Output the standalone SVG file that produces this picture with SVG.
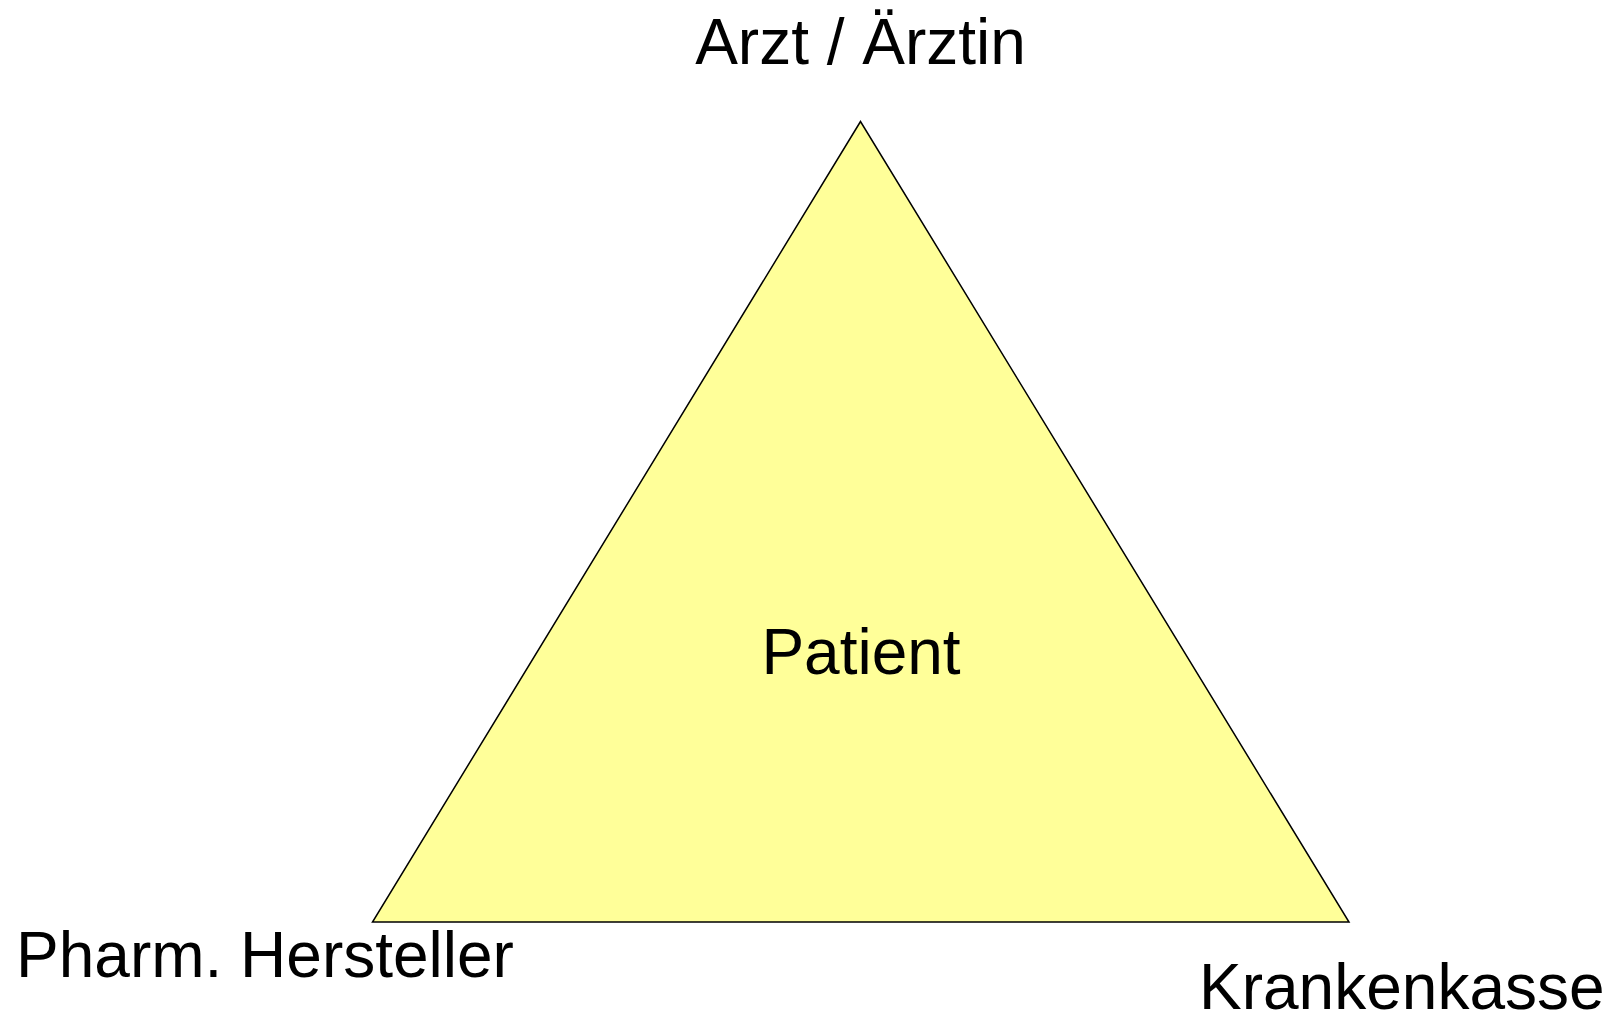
<svg xmlns="http://www.w3.org/2000/svg" width="1614" height="1014" viewBox="0 0 1614 1014">
<style>
.lbl{font-family:"Liberation Sans",Arial,sans-serif;font-size:64px;fill:#000}
</style>
<rect width="1614" height="1014" fill="#fff"/>
<g id="triangle">
<polygon points="860.5,121.5 372.5,922 1349,922" fill="#FFFF99" stroke="#000" stroke-width="1.5" stroke-linejoin="miter"/>
</g>
<g id="arzt"><text class="lbl" x="860.5" y="64" text-anchor="middle">Arzt / Ärztin</text></g>
<g id="patient"><text class="lbl" x="861" y="674" text-anchor="middle">Patient</text></g>
<g id="pharm"><text class="lbl" x="16" y="977">Pharm. Hersteller</text></g>
<g id="kasse"><text class="lbl" x="1199" y="1009">Krankenkasse</text></g>
<g id="connectors"></g>
</svg>
